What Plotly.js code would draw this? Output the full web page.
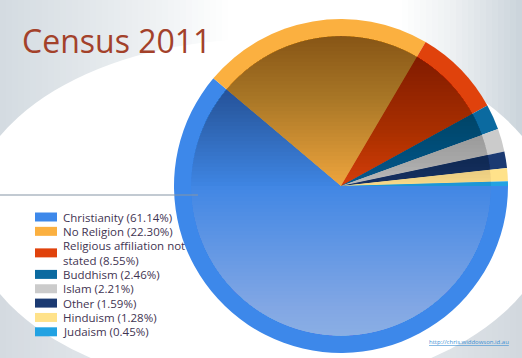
<!DOCTYPE html>
<html>
<head>
<meta charset="utf-8">
<script src="https://cdn.plot.ly/plotly-3.0.1.min.js"></script>
<style>html,body{margin:0;padding:0;background:#fff}#chart{width:522px;height:358px}</style>
</head>
<body>
<div id="chart"></div>
<script>
// ---- data ----
const categories = ['Christianity', 'No Religion', 'Religious affiliation not stated', 'Buddhism', 'Islam', 'Other', 'Hinduism', 'Judaism'];
const shares = [61.14, 22.30, 8.55, 2.46, 2.21, 1.59, 1.28, 0.45];
const chartTitle = 'Census 2011';
const sourceUrl = 'http://chris.widdowson.id.au';

// ---- styles ----
const rimColors = ['#3d88ea', '#fbb040', '#e0420c', '#0b6aa0', '#cbcbcb', '#1b3a72', '#ffe28a', '#22a2e2'];
const innerColors = ['#3f86e4', '#f0a63e', '#d63e0c', '#095c8e', '#bdbdbd', '#173163', '#f8da8a', '#1e98d8'];
const W = 522, H = 358;
const CX = 341, CY = 186, R_OUT = 167, R_IN = 150;

const px = x => x / W;
const py = y => 1 - y / H;

const shapes = [];
const annotations = [];

// background: stepped gradient bands
function hexToRgb(h){ return [parseInt(h.substr(1,2),16), parseInt(h.substr(3,2),16), parseInt(h.substr(5,2),16)]; }
function lerpColor(stops, x){
  for (let i = 0; i < stops.length - 1; i++) {
    const [x0, c0] = stops[i], [x1, c1] = stops[i+1];
    if (x >= x0 && x <= x1) {
      const t = (x - x0) / (x1 - x0);
      const a = hexToRgb(c0), b = hexToRgb(c1);
      return 'rgb(' + a.map((v, k) => Math.round(v + (b[k] - v) * t)).join(',') + ')';
    }
  }
  return stops[stops.length-1][1];
}
const topStops = [[0,'#d4dbe1'],[80,'#e1e6ea'],[160,'#eff2f4'],[230,'#ffffff'],[400,'#ffffff'],[450,'#eef1f3'],[522,'#cbd4db']];
const botStops = [[0,'#d4dae0'],[140,'#e6eaee'],[380,'#e8ecef'],[522,'#d2d8de']];
const STRIP = 6;
for (let x = 0; x < W; x += STRIP) {
  shapes.push({type:'rect', xref:'paper', yref:'paper', x0:px(x), x1:px(x+STRIP+0.5), y0:py(150), y1:py(0),
    fillcolor: lerpColor(topStops, x + STRIP/2), line:{width:0}, layer:'below'});
  shapes.push({type:'rect', xref:'paper', yref:'paper', x0:px(x), x1:px(x+STRIP+0.5), y0:py(H), y1:py(283),
    fillcolor: lerpColor(botStops, x + STRIP/2), line:{width:0}, layer:'below'});
}
// white ellipse in the middle
shapes.push({type:'circle', xref:'paper', yref:'paper', x0:px(261-292), x1:px(261+292), y0:py(215+176), y1:py(215-176),
  fillcolor:'#ffffff', line:{width:0}, layer:'below'});

// gradient overlay on the inner disc (dark at top, light at bottom)
function segmentPath(h, top){
  const a = Math.asin(Math.min(h / R_IN, 1));
  const t0 = top ? Math.PI + a : a;
  const t1 = top ? 2*Math.PI - a : Math.PI - a;
  const n = 48;
  let d = '';
  for (let i = 0; i <= n; i++) {
    const t = t0 + (t1 - t0) * i / n;
    const x = CX + R_IN * Math.cos(t), y = CY + R_IN * Math.sin(t);
    d += (i === 0 ? 'M' : 'L') + px(x).toFixed(5) + ',' + py(y).toFixed(5);
  }
  return d + 'Z';
}
const NSTEP = 40;
const darkA = 1 - Math.pow(1 - 0.40, 1 / NSTEP);
const lightA = 1 - Math.pow(1 - 0.50, 1 / NSTEP);
for (let k = 0; k < NSTEP; k++) {
  const h = R_IN * k / NSTEP;
  shapes.push({type:'path', xref:'paper', yref:'paper', path: segmentPath(h, true),
    fillcolor:'rgba(0,0,0,' + darkA.toFixed(4) + ')', line:{width:0}, layer:'above'});
  shapes.push({type:'path', xref:'paper', yref:'paper', path: segmentPath(h, false),
    fillcolor:'rgba(255,255,255,' + lightA.toFixed(4) + ')', line:{width:0}, layer:'above'});
}

// horizontal rule
shapes.push({type:'line', xref:'paper', yref:'paper', x0:0, x1:px(198), y0:py(195), y1:py(195),
  line:{color:'#8595a5', width:1}, layer:'above'});

// custom legend
const legendLabels = categories.map((c, i) => c + ' (' + shares[i].toFixed(2) + '%)')
  .map(s => s.replace('not stated', 'not<br>stated'));
const ROW0 = 217, ROWH = 14.35;
let row = 0;
legendLabels.forEach((lab, i) => {
  const lines = lab.split('<br>').length;
  const yc = ROW0 + ROWH * (row + (lines - 1) / 2);
  row += lines;
  shapes.push({type:'rect', xref:'paper', yref:'paper', x0:px(35), x1:px(57), y0:py(yc+4.5), y1:py(yc-4.5),
    fillcolor: rimColors[i], line:{width:0}, layer:'above'});
  annotations.push({xref:'paper', yref:'paper', x:px(61), y:py(yc), xanchor:'left', yanchor:'middle',
    text: lab, showarrow:false, align:'left',
    font:{family:'Open Sans, sans-serif', size:11.5, color:'#3f3452'}});
});

annotations.push({xref:'paper', yref:'paper', x:px(469), y:py(342), xanchor:'center', yanchor:'middle',
  text:'<span style="text-decoration:underline">' + sourceUrl + '</span>', showarrow:false,
  font:{family:'Open Sans, sans-serif', size:6, color:'#3b8fd4'}});

const outer = {
  type:'pie', labels: categories, values: shares, sort:false, direction:'clockwise', rotation:90,
  marker:{colors: rimColors, line:{width:0}}, textinfo:'none', hoverinfo:'label+percent',
  domain:{x:[px(CX-R_OUT), px(CX+R_OUT)], y:[py(CY+R_OUT), py(CY-R_OUT)]}, showlegend:false
};
const inner = {
  type:'pie', labels: categories, values: shares, sort:false, direction:'clockwise', rotation:90,
  marker:{colors: innerColors, line:{width:0}}, textinfo:'none', hoverinfo:'skip',
  domain:{x:[px(CX-R_IN), px(CX+R_IN)], y:[py(CY+R_IN), py(CY-R_IN)]}, showlegend:false
};

const layout = {
  width: W, height: H, margin:{l:0, r:0, t:0, b:0},
  paper_bgcolor:'#ffffff', plot_bgcolor:'rgba(0,0,0,0)',
  showlegend:false,
  title:{text: chartTitle, x: px(22), xanchor:'left', y: py(42), yanchor:'middle',
    font:{family:'Open Sans, sans-serif', size:32, color:'#a3412a'}},
  shapes: shapes, annotations: annotations
};
Plotly.newPlot('chart', [outer, inner], layout, {displayModeBar:false, staticPlot:true});
</script>
</body>
</html>
